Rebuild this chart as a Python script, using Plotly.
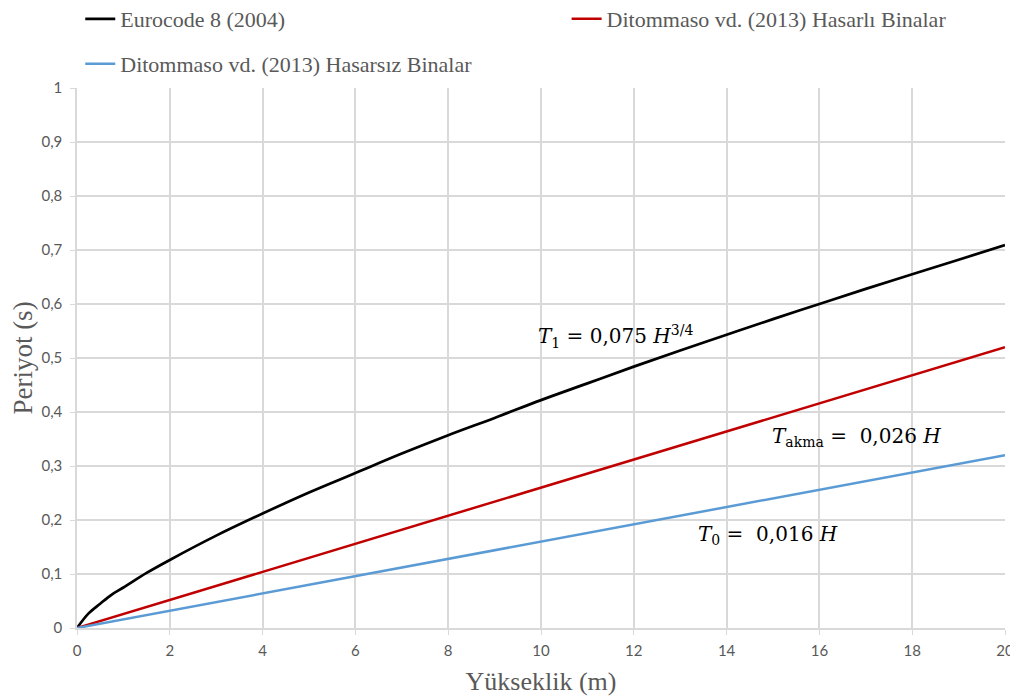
import plotly.graph_objects as go

# values
height_ec8 = [0, 0.25, 0.5, 0.75, 1, 1.5, 2, 3, 4, 5, 6, 7, 8, 9, 10,
              11, 12, 13, 14, 15, 16, 17, 18, 19, 20]
period_ec8 = [0, 0.027, 0.045, 0.062, 0.075, 0.102, 0.126, 0.171, 0.212, 0.251,
              0.287, 0.323, 0.357, 0.389, 0.422, 0.453, 0.484, 0.514, 0.543,
              0.572, 0.600, 0.628, 0.655, 0.682, 0.709]

height_lin = [0, 4, 8, 12, 16, 20]
period_damaged = [0, 0.104, 0.208, 0.312, 0.416, 0.520]
period_undamaged = [0, 0.064, 0.128, 0.192, 0.256, 0.320]

names = ['Eurocode 8 (2004)',
         'Ditommaso vd. (2013) Hasarlı Binalar',
         'Ditommaso vd. (2013) Hasarsız Binalar']
colors = ['#000000', '#c00000', '#5b9bd5']

label_x = [11.6, 16.8, 14.9]
label_y = [0.539, 0.354, 0.172]
label_text = ['<i>T</i><sub>1</sub> = 0,075 <i>H</i><sup>3/4</sup>',
              '<i>T</i><sub>akma</sub> =  0,026 <i>H</i>',
              '<i>T</i><sub>0</sub> =  0,016 <i>H</i>']

# the page body adds an 8px margin, so the figure is a bit smaller than the window
W, H = 1010, 692

fig = go.Figure()
fig.add_trace(go.Scatter(x=height_ec8, y=period_ec8, mode='lines', name=names[0],
                         line=dict(color=colors[0], width=2.7, shape='spline'),
                         legend='legend', showlegend=True))
fig.add_trace(go.Scatter(x=height_lin, y=period_damaged, mode='lines', name=names[1],
                         line=dict(color=colors[1], width=2.5), legend='legend2',
                         showlegend=True))
fig.add_trace(go.Scatter(x=height_lin, y=period_undamaged, mode='lines', name=names[2],
                         line=dict(color=colors[2], width=2.5), legend='legend3',
                         showlegend=True))

for x, y, t in zip(label_x, label_y, label_text):
    fig.add_annotation(x=x, y=y, text=t, showarrow=False,
                       font=dict(family='DejaVu Serif', size=20, color='#000000'))

legend_font = dict(family='Liberation Serif', size=22, color='#595959')
fig.update_layout(
    width=W, height=H,
    showlegend=True,
    margin=dict(l=69, r=13, t=80, b=72, autoexpand=False),
    paper_bgcolor='white', plot_bgcolor='white',
    separators=',.',
    legend=dict(x=0.0035, y=1 - 11 / H, xanchor='left', yanchor='middle', yref='container',
                font=legend_font, bgcolor='rgba(0,0,0,0)'),
    legend2=dict(x=0.5276, y=1 - 11 / H, xanchor='left', yanchor='middle', yref='container',
                 font=legend_font, bgcolor='rgba(0,0,0,0)'),
    legend3=dict(x=0.0035, y=1 - 56 / H, xanchor='left', yanchor='middle', yref='container',
                 font=legend_font, bgcolor='rgba(0,0,0,0)'),
)

fig.update_xaxes(range=[0, 20], dtick=2, showgrid=True, gridcolor='#d9d9d9', gridwidth=1.5,
                 showline=True, linecolor='#d9d9d9', linewidth=1.5,
                 ticks='outside', tickcolor='#d9d9d9', ticklen=5, ticklabelstandoff=3,
                 tickfont=dict(family='Lato', size=15, color='#595959'),
                 title=dict(text='Yükseklik (m)', standoff=14,
                            font=dict(family='Liberation Serif', size=26, color='#595959')),
                 zeroline=False)
fig.update_yaxes(range=[0, 1], dtick=0.1, showgrid=True, gridcolor='#d9d9d9', gridwidth=1.5,
                 showline=True, linecolor='#d9d9d9', linewidth=1.5,
                 ticks='outside', tickcolor='#d9d9d9', ticklen=5, ticklabelstandoff=5,
                 tickfont=dict(family='Lato', size=15, color='#595959'),
                 title=dict(text='Periyot (s)', standoff=12,
                            font=dict(family='Liberation Serif', size=27, color='#595959')),
                 zeroline=False)

fig.write_html("out.html")
